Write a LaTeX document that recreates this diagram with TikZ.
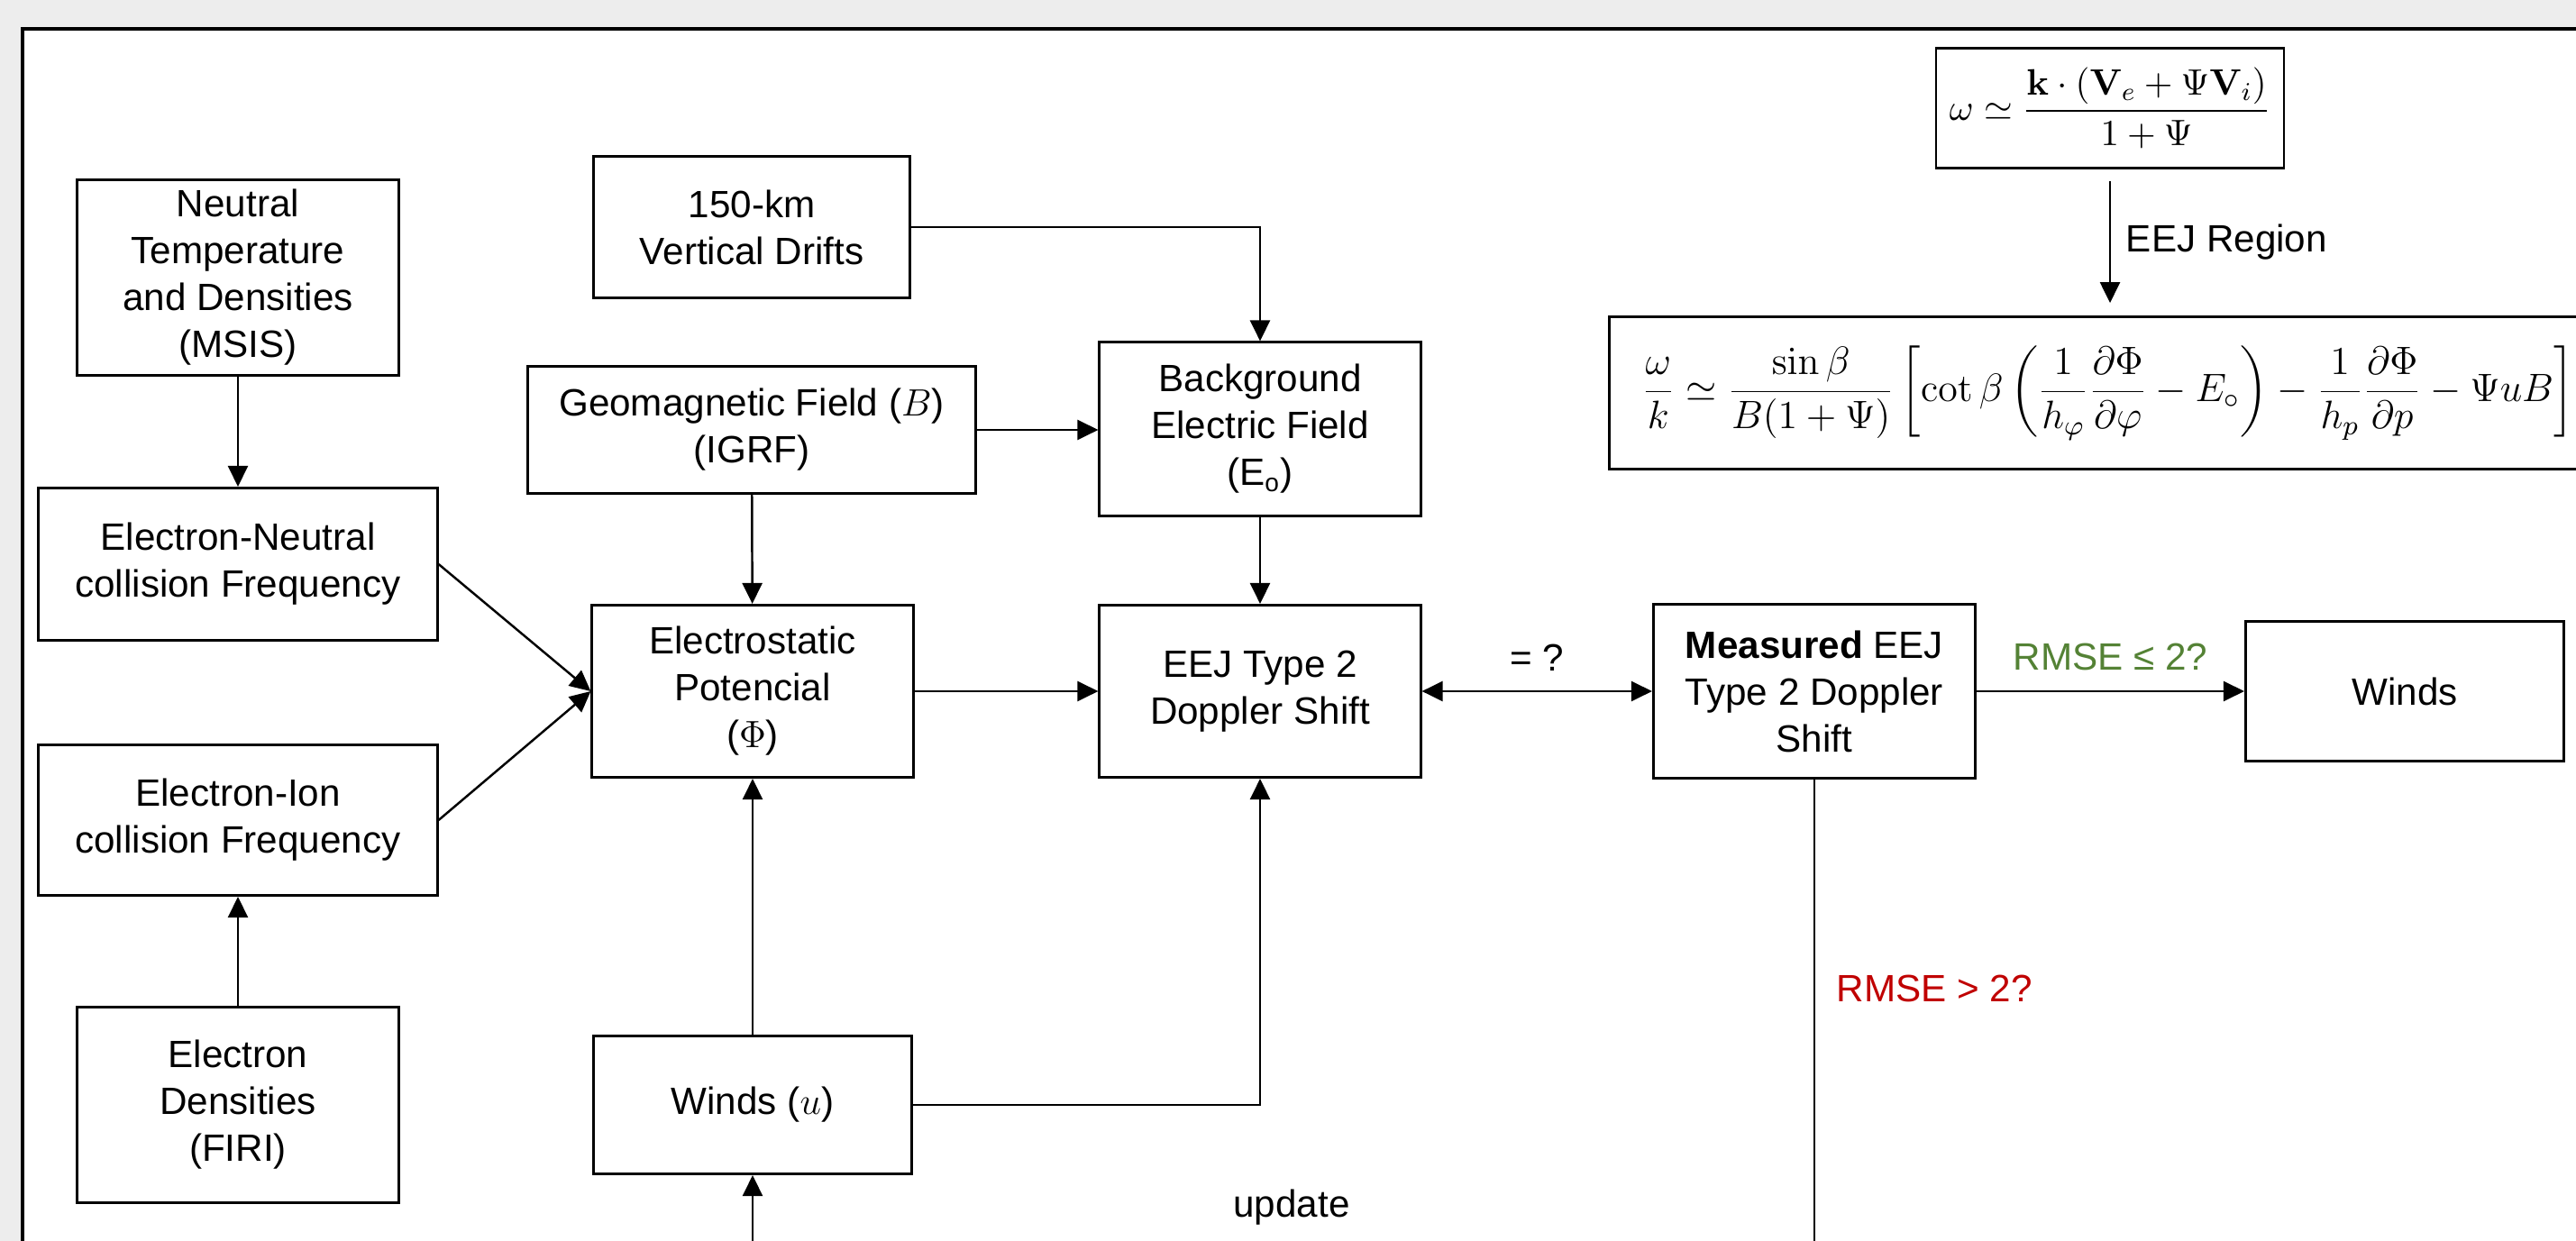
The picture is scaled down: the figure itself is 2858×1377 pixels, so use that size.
\RequirePackage{fix-cm}
\documentclass[tikz,border=0pt]{standalone}
\usepackage{amsmath}
\usepackage[no-math]{fontspec}
\setmainfont{Liberation Sans}
\usetikzlibrary{positioning,arrows.meta}
\definecolor{PageGray}{HTML}{EDEDED}
\definecolor{OkGreen}{HTML}{548235}
\definecolor{BadRed}{HTML}{C00000}

\begin{document}
\begin{tikzpicture}[x=0.01cm, y=-0.01cm,
    font=\fontsize{12}{14.8}\selectfont,
    box/.style={draw, line width=0.85pt, fill=white, align=center, inner sep=2pt},
    eqbox/.style={draw, line width=0.75pt, fill=white, inner sep=2pt},
    link/.style={line width=0.7pt, -{Triangle[length=0.23cm, width=0.22cm]}},
    dlink/.style={line width=0.7pt, {Triangle[length=0.23cm, width=0.22cm]}-{Triangle[length=0.23cm, width=0.22cm]}}]
  % page and frame
  \useasboundingbox (0,0) rectangle (2858,1377);
  \fill[PageGray] (0,0) rectangle (2858,1377);
  \clip (0,0) rectangle (2858,1377);
  \draw[line width=1.4pt, fill=white] (25,32) rectangle (2950,1460);

  % model inputs
  \node[box, minimum width=3.56cm, minimum height=2.17cm] (msis) at (264,308) {Neutral\\Temperature\\and Densities\\(MSIS)};
  \node[box, minimum width=4.42cm, minimum height=1.69cm] (enu) at (264,626) {Electron-Neutral\\collision Frequency};
  \node[box, minimum width=4.42cm, minimum height=1.67cm] (eion) at (264,910) {Electron-Ion\\collision Frequency};
  \node[box, minimum width=3.56cm, minimum height=2.17cm] (firi) at (264,1226) {Electron\\Densities\\(FIRI)};
  \node[box, minimum width=3.51cm, minimum height=1.56cm] (drift) at (834,252) {150-km\\Vertical Drifts};
  \node[box, minimum width=4.97cm, minimum height=1.40cm] (igrf) at (834,477) {Geomagnetic Field ($B$)\\(IGRF)};
  \node[box, minimum width=3.56cm, minimum height=1.91cm] (phi) at (835,767) {Electrostatic\\Potencial\\($\Phi$)};
  \node[box, minimum width=3.53cm, minimum height=1.53cm] (windu) at (835,1226) {Winds ($u$)};
  \node[box, minimum width=3.56cm, minimum height=1.92cm] (efield) at (1398,476) {Background\\Electric Field\\(E\textsubscript{o})};
  \node[box, minimum width=3.56cm, minimum height=1.91cm] (eej) at (1398,767) {EEJ Type 2\\Doppler Shift};
  \node[box, minimum width=3.57cm, minimum height=1.93cm] (meas) at (2013,767) {\textbf{Measured} EEJ\\Type 2 Doppler\\Shift};
  \node[box, minimum width=3.53cm, minimum height=1.54cm] (winds) at (2668,767) {Winds};

  % equations
  \node[eqbox, minimum width=3.86cm, minimum height=1.33cm, font=\fontsize{11.6}{13.5}\selectfont] (wave) at (2341,120)
    {$\omega \simeq \dfrac{\mathbf{k}\cdot(\mathbf{V}_e+\Psi\mathbf{V}_i)}{1+\Psi}$};
  \node[eqbox, anchor=west, minimum height=1.69cm, inner xsep=0.36cm, font=\fontsize{12.5}{15}\selectfont] (phase) at (1784,436)
    {$\dfrac{\omega}{k} \simeq \dfrac{\sin\beta}{B(1+\Psi)}\left[\cot\beta\left(\dfrac{1}{h_\varphi}\dfrac{\partial\Phi}{\partial\varphi}-E_\circ\right)-\dfrac{1}{h_p}\dfrac{\partial\Phi}{\partial p}-\Psi u B\right]$};

  % connections
  \draw[link] (msis) -- (enu);
  \draw[link] (firi) -- (eion);
  \draw[link] (enu.east) -- (phi.west);
  \draw[link] (eion.east) -- (phi.west);
  \draw[link] (drift.east) -| (efield.north);
  \draw[link] (igrf.east) -- (igrf.east -| efield.west);
  \draw[link] (igrf) -- (phi);
  \draw[link] (efield) -- (eej);
  \draw[link] (phi) -- (eej);
  \draw[link] (windu) -- (phi);
  \draw[link] (windu.east) -| (eej.south);
  \draw[dlink] (eej) -- node[above=0.1cm] {= ?} (meas);
  \draw[link] (meas) -- node[above=0.1cm, text=OkGreen] {RMSE ≤ 2?} (winds);
  \draw[link, shorten <=0.13cm, shorten >=0.14cm] (wave.south) -- node[right=0.05cm] {EEJ Region} (wave.south |- phase.north);

  % update loop
  \coordinate (loopR) at (2013,1430);
  \coordinate (loopL) at (835,1430);
  \draw[link] (meas.south) -- node[pos=0.41, right=0.12cm, text=BadRed] {RMSE > 2?} (loopR) -- (loopL) -- (windu.south);
  \node (upd) at (1433,1340) {update};
\end{tikzpicture}
\end{document}
